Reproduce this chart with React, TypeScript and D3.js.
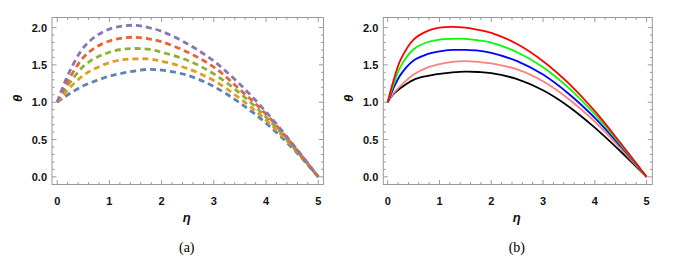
import React from 'react';
import * as d3 from 'd3';

// η sample points shared by every curve
const eta = [0, 0.1, 0.25, 0.5, 0.75, 1, 1.25, 1.5, 1.75, 2, 2.5, 3, 3.5, 4, 4.5, 5];

// panel (a) – dashed curves, bottom to top
const aBlue = [1.0, 1.05, 1.12, 1.22, 1.29, 1.35, 1.39, 1.42, 1.44, 1.43, 1.36, 1.21, 0.99, 0.72, 0.39, 0.0];
const aOrange = [1.0, 1.08, 1.2, 1.36, 1.46, 1.53, 1.57, 1.58, 1.58, 1.55, 1.45, 1.29, 1.05, 0.76, 0.41, 0.0];
const aGreen = [1.0, 1.12, 1.27, 1.48, 1.6, 1.67, 1.71, 1.72, 1.71, 1.67, 1.56, 1.38, 1.12, 0.8, 0.42, 0.0];
const aRed = [1.0, 1.15, 1.34, 1.6, 1.74, 1.82, 1.86, 1.87, 1.85, 1.81, 1.67, 1.47, 1.17, 0.84, 0.44, 0.0];
const aPurple = [1.0, 1.19, 1.43, 1.73, 1.89, 1.98, 2.02, 2.03, 2.0, 1.95, 1.78, 1.55, 1.24, 0.87, 0.45, 0.0];

// panel (b) – solid curves, bottom to top
const bBlack = [1.0, 1.1, 1.19, 1.3, 1.35, 1.38, 1.4, 1.41, 1.405, 1.39, 1.31, 1.16, 0.94, 0.66, 0.34, 0.0];
const bPink = [1.0, 1.11, 1.22, 1.37, 1.46, 1.51, 1.54, 1.55, 1.54, 1.52, 1.44, 1.28, 1.04, 0.74, 0.38, 0.0];
const bBlue = [1.0, 1.17, 1.37, 1.56, 1.64, 1.68, 1.7, 1.7, 1.69, 1.66, 1.55, 1.37, 1.11, 0.79, 0.41, 0.0];
const bGreen = [1.0, 1.21, 1.48, 1.71, 1.8, 1.84, 1.85, 1.85, 1.83, 1.8, 1.67, 1.47, 1.19, 0.84, 0.43, 0.0];
const bRed = [1.0, 1.26, 1.57, 1.84, 1.95, 2.0, 2.01, 2.0, 1.97, 1.93, 1.78, 1.55, 1.25, 0.88, 0.45, 0.0];

const xTicks = [0, 1, 2, 3, 4, 5];
const yTicks = [0, 0.5, 1, 1.5, 2];

interface Series {
  values: number[];
  color: string;
}

interface PanelProps {
  left: number;
  right: number;
  xDomain: [number, number];
  series: Series[];
  dashed: boolean;
  caption: string;
}

const TOP = 17.5;
const BOTTOM = 184.5;
const frameColor = '#9a9a9a';
const tickFont = '"Liberation Sans", Arial, sans-serif';

const Panel: React.FC<PanelProps> = ({ left, right, xDomain, series, dashed, caption }) => {
  const x = d3.scaleLinear().domain(xDomain).range([left, right]);
  const y = d3.scaleLinear().domain([-0.102, 2.135]).range([BOTTOM, TOP]);

  const line = d3.line<number>()
    .x((_, i) => x(eta[i]))
    .y(d => y(d))
    .curve(d3.curveCatmullRom.alpha(0.5));

  // minor ticks
  const xMinor = d3.range(0, 26).map(i => i * 0.2);
  const yMinor = d3.range(0, 21).map(i => i * 0.1);
  const isMajor = (v: number, step: number) => Math.abs(v / step - Math.round(v / step)) < 1e-6;

  const midX = (left + right) / 2;

  return (
    <g>
      <defs>
        <clipPath id={`clip-${caption}`}>
          <rect x={left} y={TOP} width={right - left} height={BOTTOM - TOP} />
        </clipPath>
      </defs>

      {/* ticks on all four sides */}
      {xMinor.map(v => {
        const len = isMajor(v, 1) ? 4.5 : 2.5;
        return (
          <g key={`xt${v}`} stroke={frameColor} strokeWidth={1}>
            <line x1={x(v)} x2={x(v)} y1={BOTTOM} y2={BOTTOM - len} />
            <line x1={x(v)} x2={x(v)} y1={TOP} y2={TOP + len} />
          </g>
        );
      })}
      {yMinor.map(v => {
        const len = isMajor(v, 0.5) ? 4.5 : 2.5;
        return (
          <g key={`yt${v}`} stroke={frameColor} strokeWidth={1}>
            <line x1={left} x2={left + len} y1={y(v)} y2={y(v)} />
            <line x1={right} x2={right - len} y1={y(v)} y2={y(v)} />
          </g>
        );
      })}

      <g clipPath={`url(#clip-${caption})`}>
        {series.map((s, i) => (
          <path
            key={i}
            d={line(s.values) || ''}
            fill="none"
            stroke={s.color}
            strokeWidth={dashed ? 2.8 : 1.8}
            strokeDasharray={dashed ? '6,4' : undefined}
          />
        ))}
      </g>

      <rect x={left} y={TOP} width={right - left} height={BOTTOM - TOP} fill="none" stroke={frameColor} strokeWidth={1} />

      {xTicks.map(v => (
        <text key={`xl${v}`} x={x(v)} y={205} textAnchor="middle" fontFamily={tickFont}
          fontWeight="bold" fontSize={11} fill="#111">
          {v}
        </text>
      ))}
      {yTicks.map(v => (
        <text key={`yl${v}`} x={left - 5} y={y(v)} dy="0.36em" textAnchor="end" fontFamily={tickFont}
          fontWeight="bold" fontSize={11} fill="#111">
          {v.toFixed(1)}
        </text>
      ))}

      <text x={midX - 1} y={222} textAnchor="middle" fontFamily={tickFont} fontWeight="bold"
        fontStyle="italic" fontSize={13} fill="#111">
        η
      </text>
      <text transform={`translate(${left - 35},${y(1.05)}) rotate(-90)`} textAnchor="middle"
        dy="0.35em" fontFamily={tickFont} fontWeight="bold" fontStyle="italic" fontSize={13} fill="#111">
        θ
      </text>
      <text x={midX - 1} y={252} textAnchor="middle" fontFamily='"Liberation Serif", "Times New Roman", serif'
        fontSize={14} fill="#000">
        {caption}
      </text>
    </g>
  );
};

const App: React.FC = () => {
  const seriesA: Series[] = [
    { values: aBlue, color: '#5e81b5' },
    { values: aOrange, color: '#e19c24' },
    { values: aGreen, color: '#8fb032' },
    { values: aRed, color: '#eb6235' },
    { values: aPurple, color: '#8778b3' },
  ];
  const seriesB: Series[] = [
    { values: bBlack, color: '#000000' },
    { values: bPink, color: '#ff8080' },
    { values: bBlue, color: '#0000ff' },
    { values: bGreen, color: '#00ff00' },
    { values: bRed, color: '#ff0000' },
  ];

  return (
    <div style={{ position: 'absolute', left: 0, top: 0, width: 673, height: 258, background: '#fff' }}>
      <svg width={673} height={258} style={{ display: 'block' }}>
        <rect width={673} height={258} fill="#fff" />
        <Panel left={52} right={323.5} xDomain={[-0.1, 5.1]} series={seriesA} dashed caption="(a)" />
        <Panel left={383.3} right={652.3} xDomain={[-0.085, 5.11]} series={seriesB} dashed={false} caption="(b)" />
      </svg>
    </div>
  );
};

export default App;
